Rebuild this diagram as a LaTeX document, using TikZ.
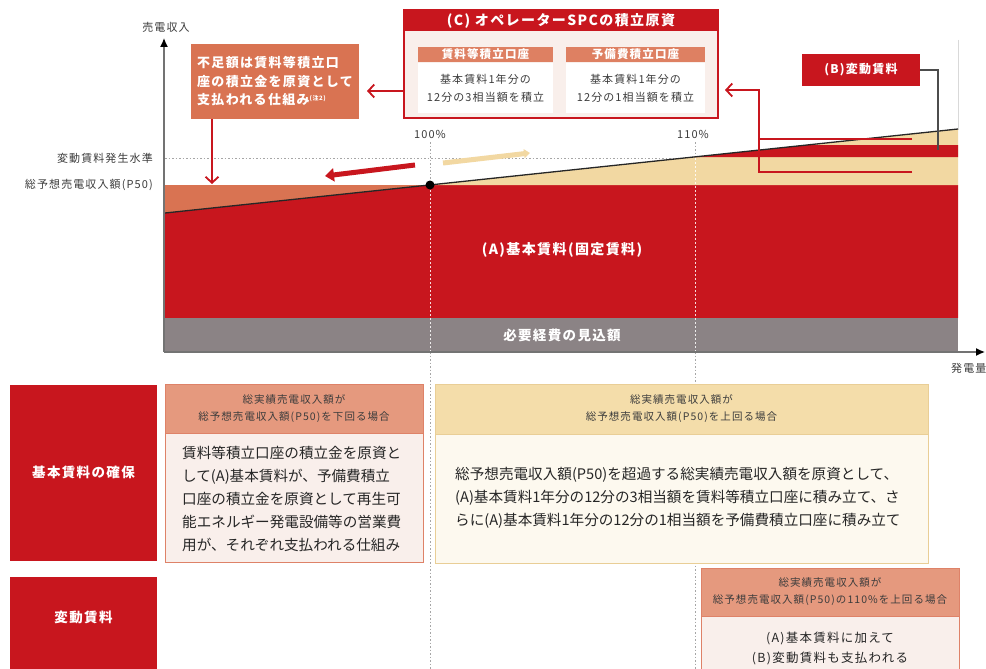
\documentclass[tikz,border=0pt]{standalone}
\usepackage{fontspec}
\setmainfont{Noto Sans CJK JP}
\newfontfamily\jpw[LetterSpace=10]{Noto Sans CJK JP}
\usetikzlibrary{arrows.meta,calc}
\definecolor{cred}{RGB}{200,22,30}
\definecolor{csalmon}{RGB}{217,115,82}
\definecolor{csub}{RGB}{222,128,98}
\definecolor{chead}{RGB}{229,153,126}
\definecolor{cborder}{RGB}{222,130,104}
\definecolor{cbeige}{RGB}{242,216,162}
\definecolor{cbhead}{RGB}{244,221,170}
\definecolor{cbborder}{RGB}{233,206,150}
\definecolor{cpink}{RGB}{249,239,235}
\definecolor{ccream}{RGB}{253,249,239}
\definecolor{cgray}{RGB}{139,131,133}
\definecolor{ctxt}{RGB}{60,60,60}
\begin{document}
\begin{tikzpicture}[x=1pt,y=-1pt,
  lbl/.style={inner sep=0pt,text=ctxt,font=\jpw\fontsize{11}{13}\selectfont},
  wtext/.style={inner sep=0pt,text=white,font=\jpw\bfseries\fontsize{#1}{#1}\selectfont},
  gdot/.style={draw=black!35,line width=0.8pt,dash pattern=on 1.5pt off 2pt},
  wdot/.style={draw=white,line width=1pt,dash pattern=on 2pt off 2pt,opacity=0.85},
  axis/.style={draw=black!55,line width=1.3pt,-{Latex[length=9pt,width=8pt,color=black]}},
  redarr/.style={draw=cred,line width=1.8pt,-{Straight Barb[length=6pt,width=13pt,line width=1.8pt]}},
  redline/.style={draw=cred,line width=1.8pt},
  hdr/.style={inner sep=0pt,text=ctxt,align=center,font=\jpw\fontsize{10.5}{17}\selectfont},
  body/.style={inner sep=0pt,text=black!85,align=left,font=\fontsize{14.6}{23}\selectfont},
]
\fill[white] (0,0) rectangle (986,669);
\useasboundingbox (0,0) rectangle (986,669);

% dotted guides (under everything)
\draw[gdot] (430,142) -- (430,669);
\draw[gdot] (695,142) -- (695,669);
\draw[gdot] (165,158) -- (695,158);
\draw[draw=black!15,line width=1pt] (958,40) -- (958,130);

% chart areas
\fill[cred] (165,213) -- (430,185) -- (958,185) -- (958,318) -- (165,318) -- cycle;
\fill[csalmon] (165,185) -- (430,185) -- (165,213) -- cycle;
\fill[cbeige] (430,185) -- (958,129) -- (958,185) -- cycle;
\fill[cred] (695,157) -- (807,145) -- (958,145) -- (958,157) -- cycle;
\fill[cgray] (165,318) rectangle (958,352);
\draw[wdot] (430,186) -- (430,351);
\draw[wdot] (695,158) -- (695,351);
\draw[line width=1.3pt,black!85] (165,213) -- (958,129);
\node[circle,fill=black,inner sep=0pt,minimum size=9pt] (dot) at (430,185) {};

% axes
\coordinate (O) at (164,352);
\coordinate (Ytop) at (164,38);
\coordinate (Xend) at (985,352);
\draw[axis] (O) -- (Ytop);
\draw[axis] (O) -- (Xend);
\node[lbl] (ylab) at (166,27) {売電収入};
\node[lbl,anchor=west] (xlab) at (951,368) {発電量};
\node[lbl,anchor=east] (lv1) at (153,158) {変動賃料発生水準};
\node[lbl,anchor=east] (lv2) at (153,185) {総予想売電収入額(P50)};
\node[lbl] (p100) at (430,134) {100\%};
\node[lbl] (p110) at (693,134) {110\%};

% chart texts
\node[wtext=14] (atext) at (562,250) {(A)基本賃料(固定賃料)};
\node[wtext=13.5] (gtext) at (562,335) {必要経費の見込額};

% arrows near 100%
\coordinate (ra1) at (415,165);
\coordinate (ra2) at (325,176);
\coordinate (ba1) at (443,163);
\coordinate (ba2) at (530,153);
\draw[cred,line width=5pt,-{Triangle[length=9pt,width=13pt]}] (ra1) -- (ra2);
\draw[cbeige,line width=5pt,-{Triangle[length=6pt,width=9pt]}] (ba1) -- (ba2);

% callout box
\node[fill=csalmon,minimum width=168,minimum height=75,inner sep=0pt,text=white,align=left,
      font=\jpw\bfseries\fontsize{13}{18.5}\selectfont] (short) at (275,81.5)
      {不足額は賃料等積立口\\座の積立金を原資として\\支払われる仕組み{\fontsize{6}{6}\selectfont\raisebox{4pt}{(注2)}}};
\coordinate (sd) at (212,184);
\draw[redarr] (short.south -| sd) -- (sd);

% (C) box
\node[draw=cred,line width=1.2pt,fill=cpink,minimum width=314,minimum height=108,inner sep=0pt] (cbox) at (561,64) {};
\node[fill=cred,minimum width=315,minimum height=21,wtext=14] (chead) at (561,20.5) {(C) オペレーターSPCの積立原資};
\node[fill=csub,minimum width=135,minimum height=15,wtext=11.5] (sh1) at (485.5,54.5) {賃料等積立口座};
\node[fill=csub,minimum width=139,minimum height=15,wtext=11.5] (sh2) at (635.5,54.5) {予備費積立口座};
\node[fill=white,minimum width=135,minimum height=50,inner sep=0pt,align=center,text=ctxt,
      font=\jpw\fontsize{11}{18}\selectfont] (sb1) at (485.5,88) {基本賃料1年分の\\12分の3相当額を積立};
\node[fill=white,minimum width=139,minimum height=50,inner sep=0pt,align=center,text=ctxt,
      font=\jpw\fontsize{11}{18}\selectfont] (sb2) at (635.5,88) {基本賃料1年分の\\12分の1相当額を積立};
\coordinate (cl) at (367,91);
\draw[redarr] ($(cbox.west)+(0,27)$) -- (cl);

% (B) box and bracket
\node[fill=cred,minimum width=118,minimum height=32,wtext=12] (bbox) at (861,70) {(B)変動賃料};
\coordinate (bk1) at (912,139);
\coordinate (bk2) at (912,172);
\coordinate (bk3) at (759,90);
\coordinate (cr) at (725,90);
\draw[redline] (bk1) -- (bk1 -| bk3);
\draw[redarr] (bk2) -- (bk2 -| bk3) -- (bk3) -- (cr);
\coordinate (bg) at (938,150);
\draw[draw=black!70,line width=1.2pt] (bbox.east) -- (bbox.east -| bg) -- (bg);

% bottom row 1
\node[fill=cred,minimum width=147,minimum height=176,inner sep=0pt,text=white,
      font=\jpw\bfseries\fontsize{13.5}{14}\selectfont] (r1) at (83.5,472.5) {基本賃料の確保};
\node[draw=cborder,line width=1pt,fill=cpink,minimum width=258,minimum height=178,inner sep=0pt] (lbox) at (294,473) {};
\node[hdr,draw=cborder,line width=1pt,fill=chead,minimum width=258,minimum height=49] (lhead) at (294,408.5)
      {総実績売電収入額が\\総予想売電収入額(P50)を下回る場合};
\node[body,anchor=west] (ltext) at (182,499)
      {賃料等積立口座の積立金を原資と\\して(A)基本賃料が、予備費積立\\口座の積立金を原資として再生可\\能エネルギー発電設備等の営業費\\用が、それぞれ支払われる仕組み};

\node[draw=cbborder,line width=1pt,fill=ccream,minimum width=493,minimum height=179,inner sep=0pt] (rbox) at (681.5,473.5) {};
\node[hdr,draw=cbborder,line width=1pt,fill=cbhead,minimum width=493,minimum height=50] (rhead) at (681.5,409)
      {総実績売電収入額が\\総予想売電収入額(P50)を上回る場合};
\node[body,anchor=west] (rtext) at (455,498)
      {総予想売電収入額(P50)を超過する総実績売電収入額を原資として、\\(A)基本賃料1年分の12分の3相当額を賃料等積立口座に積み立て、さ\\らに(A)基本賃料1年分の12分の1相当額を予備費積立口座に積み立て};

% bottom row 2
\fill[cred] (10,577) rectangle (157,675);
\node[wtext=13.5] (r2t) at (83.5,617) {変動賃料};
\node[draw=cborder,line width=1pt,fill=cpink,minimum width=258,minimum height=107,inner sep=0pt] (bbox2) at (830,621.5) {};
\node[hdr,draw=cborder,line width=1pt,fill=chead,minimum width=258,minimum height=48] (brhead) at (830,592)
      {総実績売電収入額が\\総予想売電収入額(P50)の110\%を上回る場合};
\node[inner sep=0pt,align=center,text=black!85,font=\jpw\fontsize{12.5}{20}\selectfont] (brtext) at (830,648)
      {(A)基本賃料に加えて\\(B)変動賃料も支払われる};
\end{tikzpicture}
\end{document}
